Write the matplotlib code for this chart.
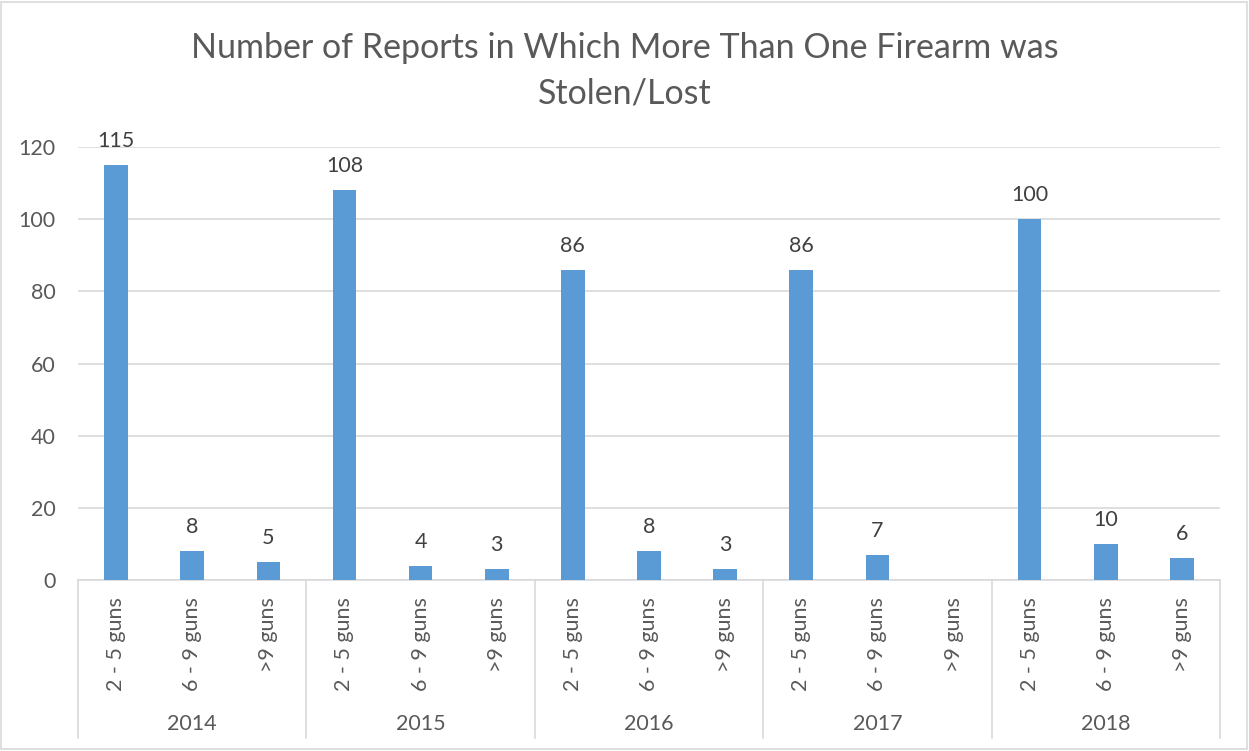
import numpy as np
import matplotlib.pyplot as plt
from matplotlib.patches import Rectangle
from matplotlib.transforms import blended_transform_factory

plt.rcParams['font.family'] = ['Lato', 'DejaVu Sans']

years = ["2014", "2015", "2016", "2017", "2018"]
buckets = ["2 - 5 guns", "6 - 9 guns", ">9 guns"]
# reports per year, one list per bucket (None = no report)
two_to_five = [115, 108, 86, 86, 100]
six_to_nine = [8, 4, 8, 7, 10]
over_nine = [5, 3, 3, None, 6]

BAR = "#5b9bd5"
TEXT = "#595959"
GRID = "#d9d9d9"

values = []
labels = []
for i in range(len(years)):
    for b, series in zip(buckets, (two_to_five, six_to_nine, over_nine)):
        values.append(series[i])
        labels.append(b)

x = np.arange(len(values))

fig = plt.figure(figsize=(12.49, 7.51), dpi=100)
fig.patches.append(Rectangle((0.001, 0.002), 0.997, 0.995, transform=fig.transFigure,
                             fill=False, edgecolor=GRID, linewidth=1.2))
ax = fig.add_axes([78 / 1249, 1 - 580 / 751, (1220 - 78) / 1249, 433 / 751])

heights = [v if v is not None else 0 for v in values]
ax.bar(x, heights, width=0.31, color=BAR, zorder=3)
for xi, v in zip(x, values):
    if v is None:
        continue
    ax.annotate(str(v), (xi, v), xytext=(0, 10), textcoords="offset points",
                ha="center", va="bottom", fontsize=15.5, color="#404040")

ax.set_xlim(-0.5, len(values) - 0.5)
ax.set_ylim(0, 120)
ax.set_yticks(range(0, 121, 20))
ax.yaxis.grid(True, color=GRID, linewidth=1.2, zorder=0)
ax.tick_params(axis="y", length=0, pad=16, labelsize=15.5, labelcolor=TEXT)
ax.set_xticks(x)
ax.set_xticklabels(labels, rotation=90, fontsize=15.5, color=TEXT, va="top")
ax.tick_params(axis="x", length=0, pad=12)
for side in ("top", "right", "left"):
    ax.spines[side].set_visible(False)
ax.spines["bottom"].set_color(GRID)
ax.spines["bottom"].set_linewidth(1.2)

# group separators and year labels under the axis
trans = blended_transform_factory(ax.transData, ax.transAxes)
drop = (738 - 580) / 433
for k in range(len(years) + 1):
    xs = k * 3 - 0.5
    ax.plot([xs, xs], [0, -drop], transform=trans, color=GRID, linewidth=1.2, clip_on=False)
for k, yr in enumerate(years):
    ax.text(k * 3 + 1, -(724 - 580) / 433, yr, transform=trans, ha="center", va="center",
            fontsize=15.5, color=TEXT)

fig.text(0.5, 1 - 71 / 751, "Number of Reports in Which More Than One Firearm was\nStolen/Lost",
         ha="center", va="center", fontsize=24.5, color=TEXT, linespacing=1.5)

fig.savefig("out.png", dpi=100)
